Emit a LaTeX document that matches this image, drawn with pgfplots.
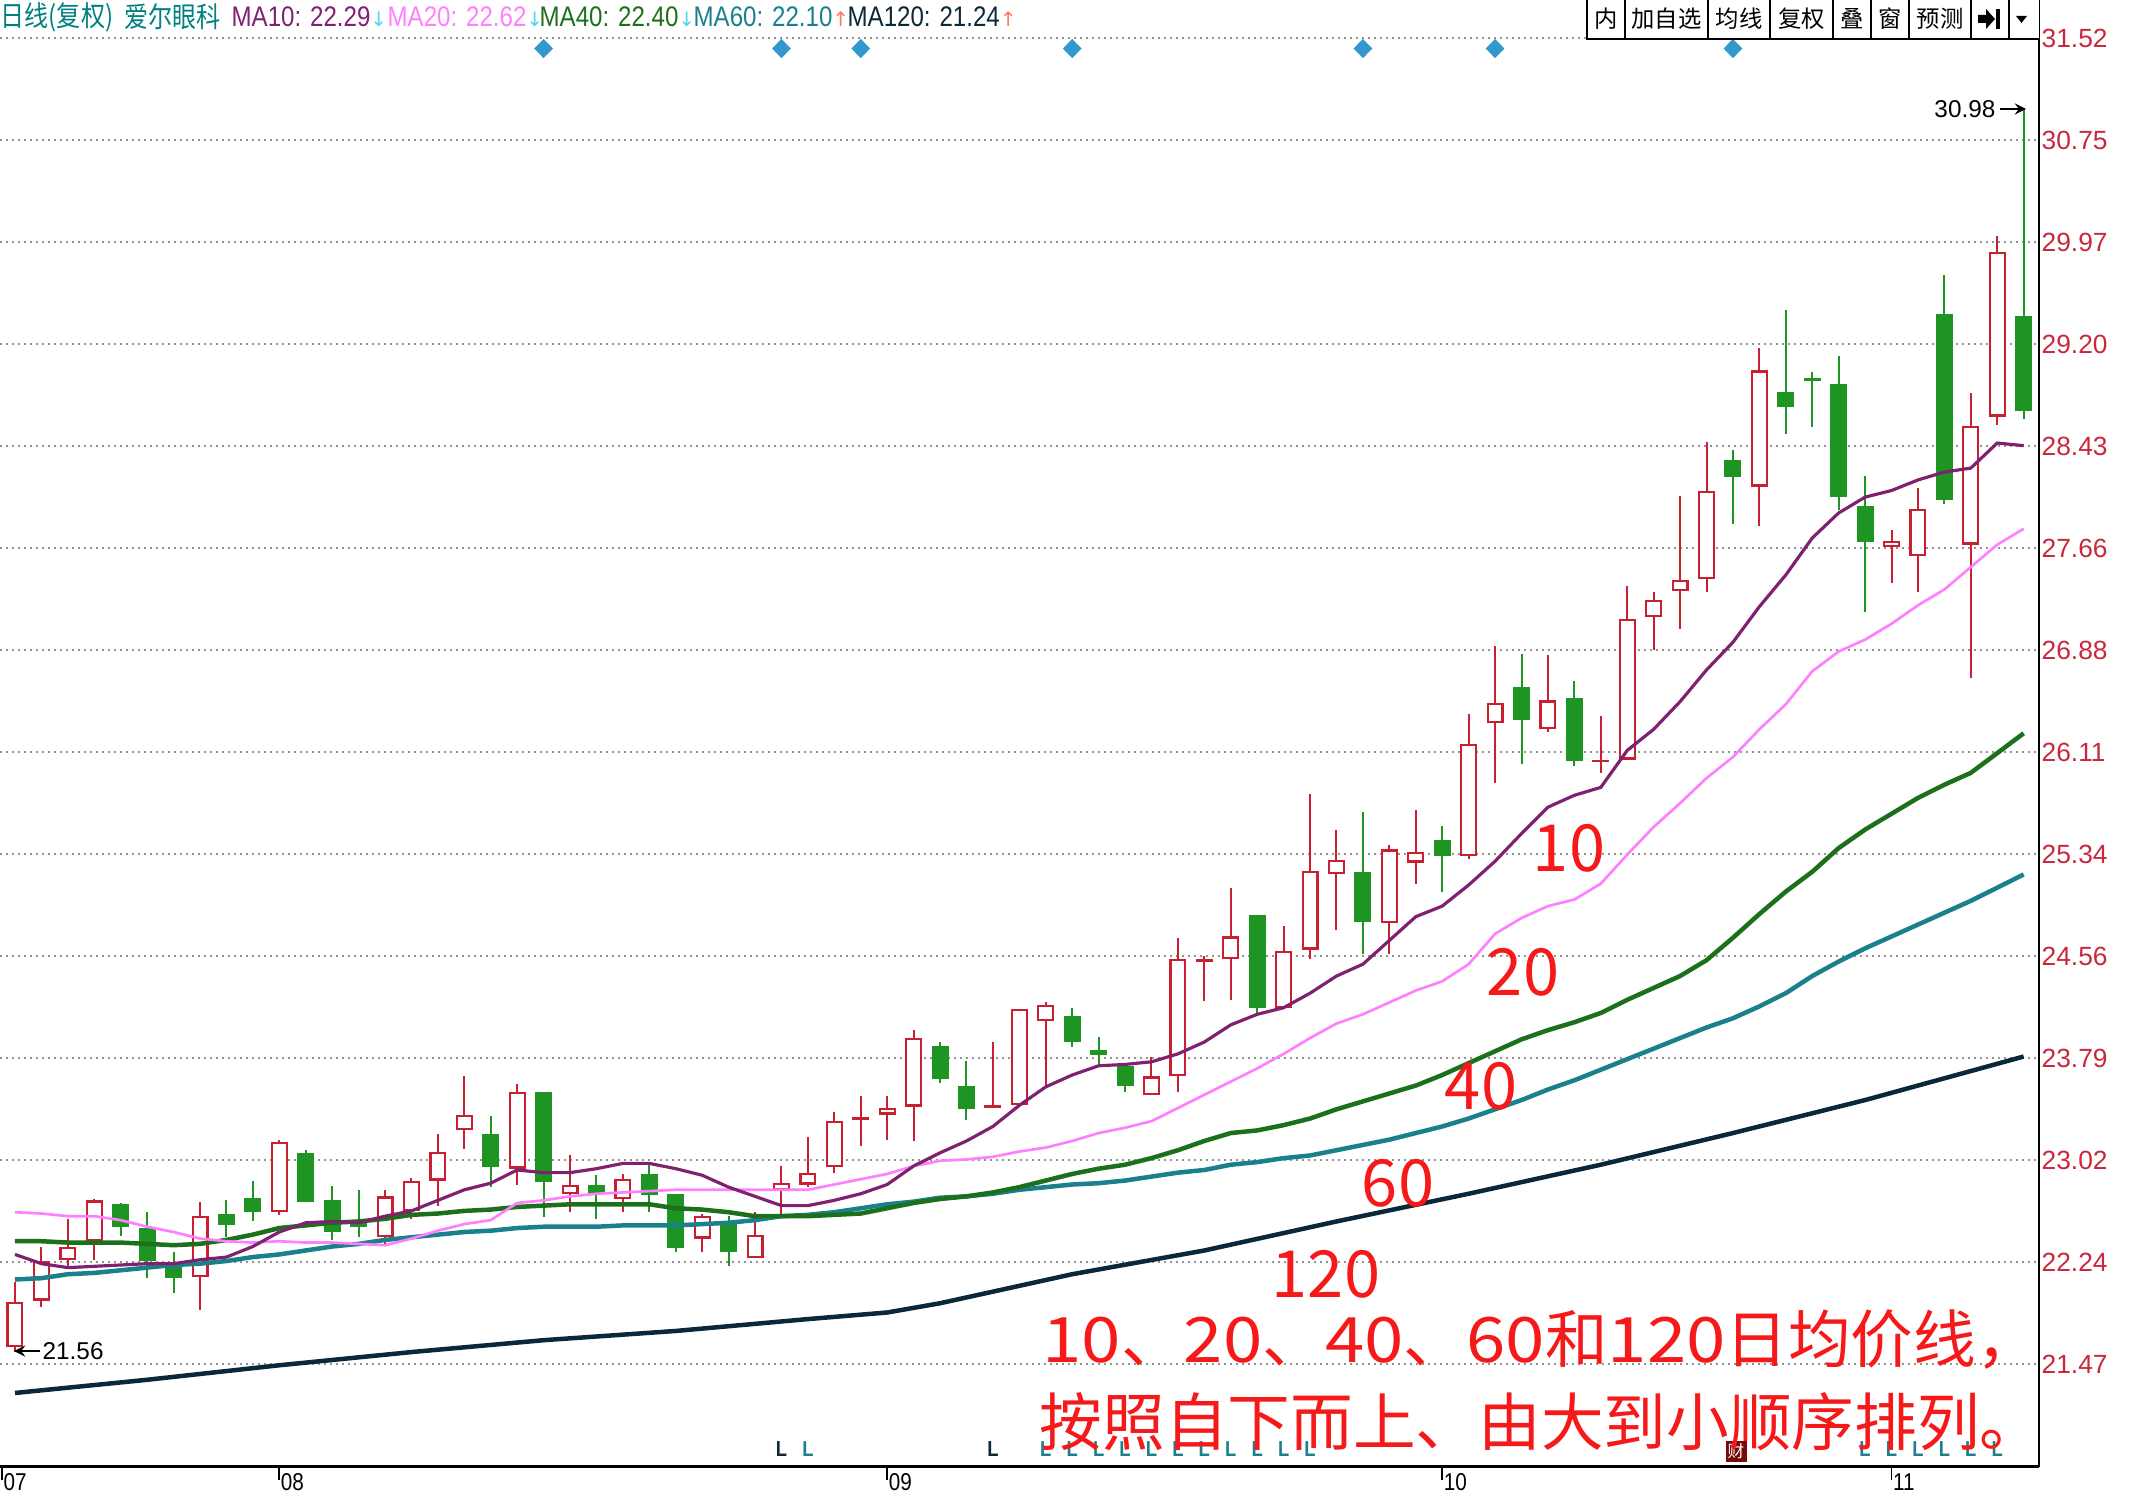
\documentclass[border=0pt]{standalone}
\usepackage{fontspec}
\usepackage{pgfplots}
\usepackage{pgfplotstable}
\pgfplotsset{compat=1.18}
\setmainfont{Liberation Sans}
\newfontfamily\cjk{Noto Sans CJK SC}
\newfontfamily\cjkn[FakeStretch=0.85]{Noto Sans CJK SC}
\newfontfamily\cjkw[FakeStretch=1.13]{Noto Sans CJK SC}
\newfontfamily\narrow[FakeStretch=0.85]{Liberation Sans}
\newfontfamily\dejavu{DejaVu Sans}

\definecolor{cred}{RGB}{200,32,48}
\definecolor{cgreen}{RGB}{30,148,34}
\definecolor{ma10}{RGB}{128,32,112}
\definecolor{ma20}{RGB}{255,128,255}
\definecolor{ma40}{RGB}{28,112,28}
\definecolor{ma60}{RGB}{26,128,140}
\definecolor{ma120}{RGB}{10,40,58}
\definecolor{tickred}{RGB}{200,40,60}
\definecolor{annred}{RGB}{245,25,25}
\definecolor{dia}{RGB}{51,153,204}
\definecolor{hdrteal}{RGB}{0,128,128}
\definecolor{dnarrow}{RGB}{80,215,235}
\definecolor{uparrow}{RGB}{255,120,100}
\definecolor{cai}{RGB}{120,10,10}

% red (rising) candles: index open high low close
\pgfplotstableread{
i O H L C
0 21.60 22.09 21.56 21.94
1 21.95 22.36 21.90 22.25
2 22.26 22.57 22.21 22.36
3 22.40 22.72 22.26 22.71
7 22.13 22.70 21.88 22.59
10 22.62 23.17 22.60 23.15
14 22.43 22.79 22.38 22.74
15 22.63 22.88 22.57 22.86
16 22.86 23.21 22.67 23.08
17 23.24 23.65 23.10 23.36
19 22.95 23.59 22.83 23.53
21 22.76 23.05 22.62 22.83
23 22.72 22.91 22.62 22.87
26 22.42 22.61 22.32 22.59
28 22.27 22.62 22.27 22.45
29 22.79 22.97 22.60 22.84
30 22.83 23.19 22.81 22.92
31 22.96 23.38 22.92 23.31
32 23.32 23.50 23.12 23.34
33 23.36 23.50 23.17 23.41
34 23.42 24.00 23.16 23.94
37 23.41 23.91 23.41 23.43
38 23.43 24.16 23.43 24.16
39 24.07 24.21 23.58 24.19
43 23.51 23.80 23.51 23.65
44 23.65 24.70 23.53 24.54
45 24.52 24.56 24.22 24.54
46 24.54 25.08 24.23 24.71
48 24.17 24.79 24.17 24.60
49 24.61 25.79 24.54 25.21
50 25.18 25.52 24.76 25.29
52 24.81 25.40 24.58 25.37
53 25.27 25.67 25.11 25.35
55 25.32 26.40 25.30 26.17
56 26.33 26.91 25.87 26.48
58 26.28 26.84 26.26 26.50
60 26.03 26.38 25.95 26.05
61 26.05 27.37 26.05 27.12
62 27.13 27.32 26.88 27.26
63 27.33 28.05 27.04 27.41
64 27.42 28.46 27.32 28.09
66 28.12 29.17 27.82 29.00
71 27.66 27.79 27.39 27.71
72 27.59 28.11 27.32 27.95
74 27.68 28.83 26.67 28.58
75 28.65 30.02 28.59 29.90
}\redtab

% green (falling) candles
\pgfplotstableread{
i O H L C
4 22.68 22.69 22.44 22.51
5 22.50 22.62 22.12 22.25
6 22.22 22.32 22.01 22.12
8 22.61 22.71 22.43 22.52
9 22.73 22.86 22.55 22.62
11 23.07 23.09 22.70 22.70
12 22.71 22.82 22.41 22.47
13 22.54 22.79 22.43 22.51
18 23.21 23.35 22.81 22.96
20 23.53 23.53 22.58 22.85
22 22.83 22.90 22.57 22.76
24 22.91 22.99 22.62 22.75
25 22.76 22.76 22.32 22.35
27 22.53 22.59 22.21 22.32
35 23.88 23.91 23.60 23.63
36 23.58 23.77 23.32 23.40
40 24.11 24.17 23.87 23.91
41 23.85 23.95 23.72 23.81
42 23.73 23.75 23.53 23.58
47 24.87 24.87 24.13 24.17
51 25.20 25.65 24.58 24.82
54 25.44 25.55 25.05 25.32
57 26.60 26.85 26.02 26.35
59 26.52 26.65 26.00 26.04
65 28.32 28.40 27.84 28.19
67 28.84 29.46 28.52 28.72
68 28.94 28.99 28.57 28.92
69 28.90 29.11 27.94 28.04
70 27.97 28.20 27.17 27.70
73 29.43 29.72 27.99 28.02
76 29.41 30.98 28.63 28.69
}\greentab

% moving averages
\pgfplotstableread{
i m10 m20 m40 m60
0 22.30 22.62 22.40 22.11
1 22.23 22.61 22.40 22.12
2 22.20 22.59 22.39 22.15
3 22.21 22.59 22.39 22.16
4 22.22 22.56 22.39 22.18
5 22.23 22.51 22.38 22.20
6 22.23 22.47 22.37 22.22
7 22.26 22.42 22.38 22.23
8 22.28 22.40 22.41 22.25
9 22.36 22.39 22.45 22.28
10 22.47 22.40 22.50 22.30
11 22.54 22.39 22.52 22.33
12 22.55 22.39 22.54 22.36
13 22.54 22.38 22.55 22.38
14 22.59 22.37 22.57 22.41
15 22.63 22.42 22.60 22.43
16 22.71 22.48 22.61 22.45
17 22.79 22.53 22.63 22.47
18 22.84 22.56 22.64 22.48
19 22.94 22.69 22.66 22.50
20 22.92 22.71 22.67 22.51
21 22.92 22.74 22.68 22.51
22 22.95 22.76 22.68 22.51
23 22.99 22.77 22.68 22.52
24 22.99 22.78 22.68 22.52
25 22.95 22.79 22.65 22.52
26 22.90 22.79 22.64 22.53
27 22.81 22.79 22.62 22.54
28 22.74 22.79 22.59 22.56
29 22.67 22.79 22.59 22.59
30 22.67 22.79 22.59 22.60
31 22.71 22.83 22.60 22.62
32 22.76 22.87 22.61 22.65
33 22.83 22.91 22.65 22.68
34 22.97 22.97 22.69 22.70
35 23.07 23.01 22.72 22.73
36 23.16 23.02 22.74 22.74
37 23.27 23.04 22.77 22.76
38 23.43 23.08 22.81 22.79
39 23.57 23.11 22.86 22.81
40 23.66 23.16 22.91 22.83
41 23.73 23.22 22.95 22.84
42 23.74 23.26 22.98 22.86
43 23.76 23.31 23.03 22.89
44 23.82 23.41 23.09 22.92
45 23.91 23.51 23.16 22.94
46 24.04 23.61 23.22 22.98
47 24.12 23.71 23.24 23.00
48 24.17 23.82 23.28 23.03
49 24.28 23.94 23.33 23.05
50 24.41 24.05 23.40 23.09
51 24.50 24.12 23.46 23.13
52 24.68 24.21 23.52 23.17
53 24.86 24.30 23.58 23.22
54 24.94 24.37 23.66 23.27
55 25.10 24.50 23.75 23.33
56 25.28 24.73 23.84 23.40
57 25.49 24.85 23.93 23.47
58 25.69 24.94 24.00 23.55
59 25.78 24.99 24.06 23.62
60 25.84 25.11 24.13 23.70
61 26.12 25.33 24.23 23.78
62 26.28 25.54 24.32 23.86
63 26.49 25.72 24.41 23.94
64 26.73 25.91 24.53 24.02
65 26.94 26.07 24.70 24.09
66 27.21 26.28 24.88 24.18
67 27.45 26.47 25.05 24.28
68 27.73 26.72 25.20 24.41
69 27.92 26.87 25.38 24.52
70 28.04 26.96 25.52 24.62
71 28.09 27.08 25.64 24.71
72 28.17 27.22 25.76 24.80
73 28.23 27.34 25.86 24.89
74 28.26 27.51 25.95 24.98
75 28.45 27.68 26.10 25.08
76 28.43 27.80 26.25 25.18
}\matab

\begin{document}
\begin{tikzpicture}
\useasboundingbox (0pt,-9.3pt) rectangle (643.2pt,440.1pt);
\begin{axis}[
  at={(0pt,0pt)}, anchor=south west,
  width=611.7pt, height=440.1pt, scale only axis,
  xmin=-0.5675, xmax=76.58,
  ymin=20.689, ymax=31.808,
  axis x line*=bottom, axis y line*=right,
  x axis line style={black, line width=0.9pt},
  y axis line style={black, line width=0.6pt},
  ytick={21.47,22.2431,23.0162,23.7892,24.5623,25.3354,26.1085,26.8815,27.6546,28.4277,29.2008,29.9738,30.7469,31.52},
  yticklabels={21.47,22.24,23.02,23.79,24.56,25.34,26.11,26.88,27.66,28.43,29.20,29.97,30.75,31.52},
  yticklabel style={font=\fontsize{7.9}{8}\selectfont, text=tickred, anchor=west, inner sep=0pt, xshift=-3.4pt},
  ymajorgrids,
  major grid style={gray!85, line width=0.6pt, dash pattern=on 0.6pt off 1.2pt},
  xtick={-0.49,10,33,54,71},
  xticklabels={07,08,09,10,11},
  xticklabel style={font=\narrow\fontsize{7.3}{8}\selectfont, anchor=north west, inner sep=0pt, xshift=0.3pt, yshift=2.2pt},
  tick align=outside, major tick length=4pt,
  ytick style={draw=none}, xtick style={black, line width=0.5pt},
  clip=false,
]
% wicks
\addplot[draw=none, error bars/.cd, y dir=both, y explicit, error mark=none,
  error bar style={draw=cred, line width=0.6pt}]
  table[x=i, y expr={(\thisrow{H}+\thisrow{L})/2}, y error expr={(\thisrow{H}-\thisrow{L})/2}] {\redtab};
\addplot[draw=none, error bars/.cd, y dir=both, y explicit, error mark=none,
  error bar style={draw=cgreen, line width=0.6pt}]
  table[x=i, y expr={(\thisrow{H}+\thisrow{L})/2}, y error expr={(\thisrow{H}-\thisrow{L})/2}] {\greentab};
% bodies
\addplot[draw=none, error bars/.cd, y dir=both, y explicit, error mark=none,
  error bar style={draw=cred, line width=5.1pt}]
  table[x=i, y expr={(\thisrow{O}+\thisrow{C})/2}, y error expr={(\thisrow{C}-\thisrow{O})/2}] {\redtab};
\addplot[draw=none, error bars/.cd, y dir=both, y explicit, error mark=none,
  error bar style={draw=white, line width=3.8pt}]
  table[x=i, y expr={(\thisrow{O}+\thisrow{C})/2}, y error expr={max((\thisrow{C}-\thisrow{O})/2-0.0167,0)}] {\redtab};
\addplot[draw=none, error bars/.cd, y dir=both, y explicit, error mark=none,
  error bar style={draw=cgreen, line width=5.1pt}]
  table[x=i, y expr={(\thisrow{O}+\thisrow{C})/2}, y error expr={(\thisrow{O}-\thisrow{C})/2}] {\greentab};
% moving averages
\addplot[ma120, line width=1.35pt] coordinates {(0,21.25) (5,21.35) (10,21.46) (15,21.56) (20,21.65) (25,21.72) (30,21.81) (33,21.86) (35,21.93) (40,22.15) (45,22.33) (50,22.55) (55,22.76) (60,22.98) (65,23.22) (70,23.47) (76,23.80)};
\addplot[ma60, line width=1.35pt] table[x=i, y=m60] {\matab};
\addplot[ma40, line width=1.35pt] table[x=i, y=m40] {\matab};
\addplot[ma20, line width=0.8pt] table[x=i, y=m20] {\matab};
\addplot[ma10, line width=0.95pt] table[x=i, y=m10] {\matab};
% signal diamonds
\addplot[only marks, mark=diamond*, mark size=2.6pt, mark options={xscale=1.3, fill=dia, draw=dia}]
  coordinates {(20,31.44) (29,31.44) (32,31.44) (40,31.44) (51,31.44) (56,31.44) (65,31.44)};
% L markers
\addplot[only marks, mark=text, text mark={L}, text mark as node=true, ma120,
  text mark style={font=\narrow\bfseries\fontsize{6.5}{7}\selectfont, inner sep=0pt}]
  coordinates {(29,20.826) (37,20.826)};
\addplot[only marks, mark=text, text mark={L}, text mark as node=true, ma60,
  text mark style={font=\narrow\bfseries\fontsize{6.5}{7}\selectfont, inner sep=0pt}]
  coordinates {(30,20.826) (39,20.826) (40,20.826) (41,20.826) (42,20.826) (43,20.826) (44,20.826) (45,20.826) (46,20.826) (47,20.826) (48,20.826) (49,20.826) (70,20.826) (71,20.826) (72,20.826) (73,20.826) (74,20.826) (75,20.826)};
\end{axis}

\begin{scope}[x=0.3pt, y=-0.3pt, shift={(0pt,440.1pt)}]
% header
\def\hdr{\fontsize{8.5}{9}\selectfont}
\node[anchor=west, inner sep=0pt, text=hdrteal, font=\cjkn\hdr] at (0,17) {日线(复权)};
\node[anchor=west, inner sep=0pt, text=hdrteal, font=\cjkn\hdr] at (124,17) {爱尔眼科};
\node[anchor=west, inner sep=0pt, font=\narrow\hdr] at (231,17) {\textcolor{ma10}{MA10: 22.29}\textcolor{dnarrow}{\dejavu\fontsize{6}{7}\selectfont↓}};
\node[anchor=west, inner sep=0pt, font=\narrow\hdr] at (387,17) {\textcolor{ma20}{MA20: 22.62}\textcolor{dnarrow}{\dejavu\fontsize{6}{7}\selectfont↓}};
\node[anchor=west, inner sep=0pt, font=\narrow\hdr] at (539,17) {\textcolor{ma40}{MA40: 22.40}\textcolor{dnarrow}{\dejavu\fontsize{6}{7}\selectfont↓}};
\node[anchor=west, inner sep=0pt, font=\narrow\hdr] at (693,17) {\textcolor{ma60}{MA60: 22.10}\textcolor{uparrow}{\dejavu\fontsize{6}{7}\selectfont↑}};
\node[anchor=west, inner sep=0pt, font=\narrow\hdr] at (847,17) {\textcolor{ma120}{MA120: 21.24}\textcolor{uparrow}{\dejavu\fontsize{6}{7}\selectfont↑}};
% toolbar
\fill[white] (1587,-3) rectangle (2039,39);
\draw[black, line width=0.6pt] (1587,-3) -- (1587,39) -- (2039,39);
\foreach \xx in {1625,1708,1770,1833,1871,1909,1971,2009} \draw[black, line width=0.6pt] (\xx,-3) -- (\xx,39);
\begin{scope}[every node/.style={font=\cjk\fontsize{7}{8}\selectfont, inner sep=0pt}]
\node at (1606,19) {内};
\node at (1666.5,19) {加自选};
\node at (1739,19) {均线};
\node at (1801.5,19) {复权};
\node at (1852,19) {叠};
\node at (1890,19) {窗};
\node at (1940,19) {预测};
\end{scope}
\fill (1978,15) -- (1986,15) -- (1986,9) -- (1995,19) -- (1986,29) -- (1986,23) -- (1978,23) -- cycle;
\fill (1996,9) rectangle (2000,29);
\fill (2016,16) -- (2027,16) -- (2021.5,23) -- cycle;
% price annotations
\draw[-stealth, line width=0.5pt] (40,1351) -- (14,1351);
\node[anchor=west, inner sep=0pt, font=\fontsize{7.3}{8}\selectfont] at (42,1351) {21.56};
\draw[-stealth, line width=0.5pt] (2000,109) -- (2026,109);
\node[anchor=east, inner sep=0pt, font=\fontsize{7.3}{8}\selectfont] at (1996,109) {30.98};
% cai box
\node[fill=cai, text=white, inner sep=0.4pt, minimum size=6.3pt, font=\cjk\fontsize{5}{5}\selectfont] at (1736,1451) {财};
% big annotations
\begin{scope}[every node/.style={text=annred, font=\cjk\fontsize{19.5}{20}\selectfont, inner sep=0pt}]
\node at (1569,848) {10};
\node at (1523,972) {20};
\node at (1481,1086) {40};
\node at (1398,1183) {60};
\node at (1326,1274) {120};
\end{scope}
\begin{scope}[every node/.style={text=annred, font=\cjk\fontsize{18.8}{20}\selectfont, inner sep=0pt, anchor=west}]
\node at (1042,1339) {{\cjkw 10}、{\cjkw 20}、{\cjkw 40}、{\cjkw 60}和{\cjkw 120}日均价线，};
\node at (1039,1422) {按照自下而上、由大到小顺序排列。};
\end{scope}
\end{scope}
\end{tikzpicture}
\end{document}
